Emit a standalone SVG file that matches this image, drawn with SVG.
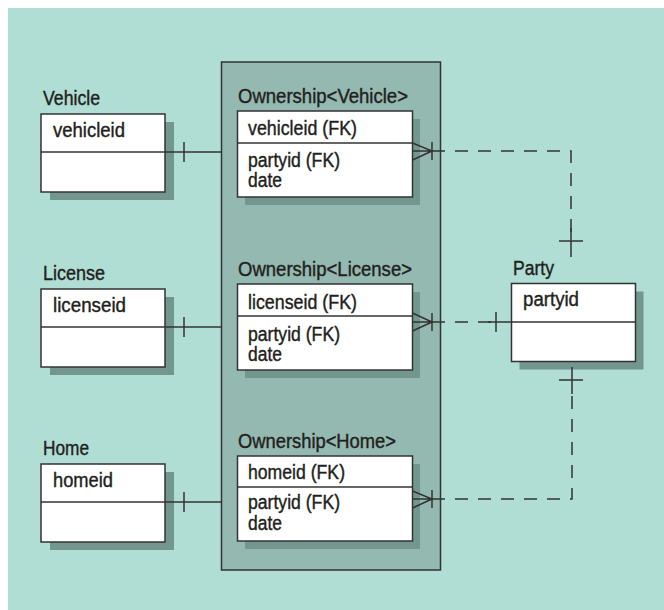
<svg xmlns="http://www.w3.org/2000/svg" width="664" height="610" viewBox="0 0 664 610">
<style>
.bg{fill:#b0ddd4}
.grp{fill:#94b9b0;stroke:#333;stroke-width:1.5}
.sh{fill:#73968e}
.box{fill:#fff;stroke:#333;stroke-width:1.5}
.ln{stroke:#333;stroke-width:1.5;fill:none}
.dash{stroke:#333;stroke-width:1.5;fill:none;stroke-dasharray:13 10}
text{font-family:"Liberation Sans",Arial,sans-serif;font-size:20px;fill:#231f20;stroke:#231f20;stroke-width:0.4}
</style>
<rect x="0" y="0" width="664" height="610" fill="#fff"/>
<rect class="bg" x="8" y="8" width="656" height="602"/>
<rect class="grp" x="221.5" y="62" width="219" height="508"/>

<g id="vehicle">
<text x="43" y="105" textLength="57" lengthAdjust="spacingAndGlyphs">Vehicle</text>
<rect class="sh" x="50" y="122" width="124" height="78"/>
<rect class="box" x="41" y="114" width="124" height="78"/>
<line class="ln" x1="41" y1="152" x2="165" y2="152"/>
<text x="53" y="137" textLength="72" lengthAdjust="spacingAndGlyphs">vehicleid</text>
</g>

<g id="license">
<text x="43" y="280" textLength="62" lengthAdjust="spacingAndGlyphs">License</text>
<rect class="sh" x="50" y="297" width="124" height="78"/>
<rect class="box" x="41" y="289" width="124" height="78"/>
<line class="ln" x1="41" y1="327" x2="165" y2="327"/>
<text x="53" y="312" textLength="73" lengthAdjust="spacingAndGlyphs">licenseid</text>
</g>

<g id="home">
<text x="43" y="455" textLength="46" lengthAdjust="spacingAndGlyphs">Home</text>
<rect class="sh" x="50" y="472" width="124" height="78"/>
<rect class="box" x="41" y="464" width="124" height="78"/>
<line class="ln" x1="41" y1="502" x2="165" y2="502"/>
<text x="53" y="487" textLength="60" lengthAdjust="spacingAndGlyphs">homeid</text>
</g>

<g id="own-vehicle">
<text x="238" y="103" textLength="170" lengthAdjust="spacingAndGlyphs">Ownership&lt;Vehicle&gt;</text>
<rect class="sh" x="245" y="119" width="175" height="86"/>
<rect class="box" x="237.5" y="111" width="175" height="86"/>
<line class="ln" x1="237.5" y1="143" x2="412.5" y2="143"/>
<text x="248" y="135" textLength="109" lengthAdjust="spacingAndGlyphs">vehicleid (FK)</text>
<text x="248" y="166.5" textLength="92" lengthAdjust="spacingAndGlyphs">partyid (FK)</text>
<text x="248" y="186.5" textLength="34" lengthAdjust="spacingAndGlyphs">date</text>
</g>

<g id="own-license">
<text x="238" y="276" textLength="174" lengthAdjust="spacingAndGlyphs">Ownership&lt;License&gt;</text>
<rect class="sh" x="245" y="292" width="175" height="86"/>
<rect class="box" x="237.5" y="284" width="175" height="86"/>
<line class="ln" x1="237.5" y1="316" x2="412.5" y2="316"/>
<text x="248" y="309" textLength="109" lengthAdjust="spacingAndGlyphs">licenseid (FK)</text>
<text x="248" y="340.5" textLength="92" lengthAdjust="spacingAndGlyphs">partyid (FK)</text>
<text x="248" y="360.5" textLength="34" lengthAdjust="spacingAndGlyphs">date</text>
</g>

<g id="own-home">
<text x="238" y="448" textLength="158" lengthAdjust="spacingAndGlyphs">Ownership&lt;Home&gt;</text>
<rect class="sh" x="245" y="464" width="175" height="85"/>
<rect class="box" x="237.5" y="456" width="175" height="85"/>
<line class="ln" x1="237.5" y1="487" x2="412.5" y2="487"/>
<text x="248" y="479" textLength="97" lengthAdjust="spacingAndGlyphs">homeid (FK)</text>
<text x="248" y="509" textLength="92" lengthAdjust="spacingAndGlyphs">partyid (FK)</text>
<text x="248" y="530" textLength="34" lengthAdjust="spacingAndGlyphs">date</text>
</g>

<g id="party">
<text x="513" y="275" textLength="41" lengthAdjust="spacingAndGlyphs">Party</text>
<rect class="sh" x="519.5" y="291.5" width="124" height="78"/>
<rect class="box" x="511.5" y="283.5" width="124" height="78"/>
<line class="ln" x1="511.5" y1="322" x2="635.5" y2="322"/>
<text x="523" y="306" textLength="56" lengthAdjust="spacingAndGlyphs">partyid</text>
</g>

<g id="connectors">
<line class="ln" x1="165" y1="152" x2="221.5" y2="152"/>
<line class="ln" x1="184" y1="142" x2="184" y2="162"/>
<line class="ln" x1="165" y1="327" x2="221.5" y2="327"/>
<line class="ln" x1="184" y1="317" x2="184" y2="337"/>
<line class="ln" x1="165" y1="502" x2="221.5" y2="502"/>
<line class="ln" x1="184" y1="492" x2="184" y2="512"/>

<path class="ln" d="M412.5,143 L432,151 L412.5,160 M412.5,151 H432 M432,142 V160"/>
<path class="dash" d="M432,151 H571 V232"/>
<path class="ln" d="M571,228 V257 M559,241 H583"/>

<path class="ln" d="M412.5,313 L432,322 L412.5,331 M412.5,322 H432 M432,313 V331"/>
<path class="dash" d="M432,322 H492"/>
<path class="ln" d="M488,322 H511.5 M496,312 V332"/>

<path class="ln" d="M412.5,491 L432,499 L412.5,508 M412.5,499 H432 M432,490 V508"/>
<path class="dash" d="M432,499 H572 V390"/>
<path class="ln" d="M572,394 V367 M559,380 H583"/>
</g>
</svg>
